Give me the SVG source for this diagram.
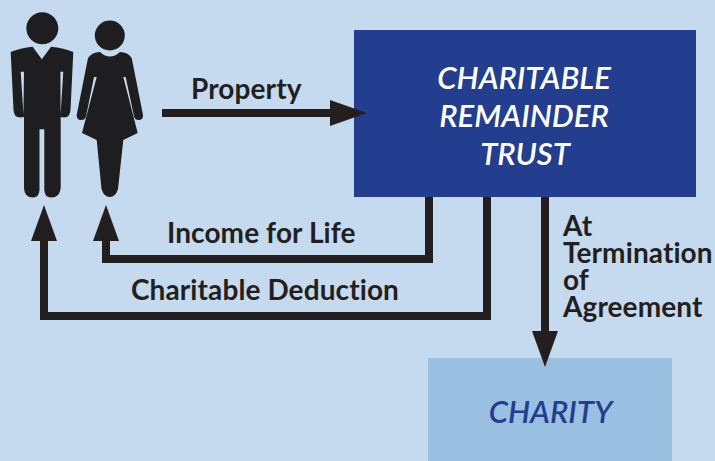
<svg xmlns="http://www.w3.org/2000/svg" width="715" height="461" viewBox="0 0 715 461">
<style>
.lbl{font-family:"Lato","Liberation Sans",sans-serif;font-weight:700;fill:#231f20;font-size:28px;letter-spacing:.1px;font-variant-ligatures:none}
.ttl{font-family:"Lato","Liberation Sans",sans-serif;font-style:italic;font-weight:600;text-anchor:middle;font-size:31px;font-variant-ligatures:none}
.wire{fill:none;stroke:#231f20;stroke-width:8}
.head{fill:#231f20}
.fig{fill:#1e1e20}
</style>
<rect width="715" height="461" fill="#c5daef"/>
<g id="man" class="fig">
<circle cx="42.3" cy="28.3" r="16"/>
<path fill-rule="evenodd" d="M32.700 46.700 L41.800 59.300 L51 46.700 Q64 48 73.300 52 L70.500 110 Q70 117.500 64 117.500 L60.700 117 L60.700 188 Q60 197.500 51 197.500 Q44.800 197.500 44.300 190 L44.300 129.300 L39.500 129.300 L39.500 190 Q39 197.500 33 197.500 Q24.300 197.500 24 188 L24 117 L20 117.500 Q14 117.500 13.500 110 L10.700 52 Q20 48 32.700 46.700Z M20.700 71.700 L23.400 114 L24 71.700Z M60.400 71.700 L60.600 114 L63.300 71.700Z"/>
</g>
<g id="woman" class="fig">
<circle cx="109.800" cy="35.500" r="15"/>
<path d="M100 52 Q109.800 61 120 52 Q128 52 131.700 58 L143 115 Q143.500 120 138.500 120 Q135 120 134 116.500 L125.700 77 L123.300 77 L137.700 133 L123.300 140 L118 189 Q115.500 197 109.800 197 Q104 197 101.500 189 L96.700 140 L82 133 L96.700 77 L94 77 L86 116.500 Q85 120 81 120 Q76.500 120 76.700 115 L88 58 Q92 52 100 52Z"/>
</g>
<g id="trust">
<rect x="354" y="30" width="342" height="167" fill="#233e8f"/>
<text class="ttl" fill="#fff" x="524" y="89">CHARITABLE</text>
<text class="ttl" fill="#fff" x="524" y="127">REMAINDER</text>
<text class="ttl" fill="#fff" x="525" y="165">TRUST</text>
</g>
<g id="charity">
<rect x="428" y="358" width="244" height="103" fill="#9ac0e1"/>
<text class="ttl" fill="#233e8f" x="550.500" y="423">CHARITY</text>
</g>
<g id="connectors">
<path class="wire" d="M162 113H332"/><path class="head" d="M330 100L367 113L330 126Z"/>
<path class="wire" d="M429 197V259H106V240"/><path class="head" d="M93 241L106 205L119 241Z"/>
<path class="wire" d="M487 197V316H44V240"/><path class="head" d="M31 241L44 205L57 241Z"/>
<path class="wire" d="M545 197V332"/><path class="head" d="M532 331H558L545 367Z"/>
</g>
<g id="labels">
<text class="lbl" x="191" y="99">Property</text>
<text class="lbl" x="167" y="243">Income for Life</text>
<text class="lbl" x="131" y="300">Charitable Deduction</text>
<text class="lbl"><tspan x="563" y="236">At</tspan><tspan x="563" y="263">Termination</tspan><tspan x="563" y="290">of</tspan><tspan x="563" y="317">Agreement</tspan></text>
</g>
</svg>
